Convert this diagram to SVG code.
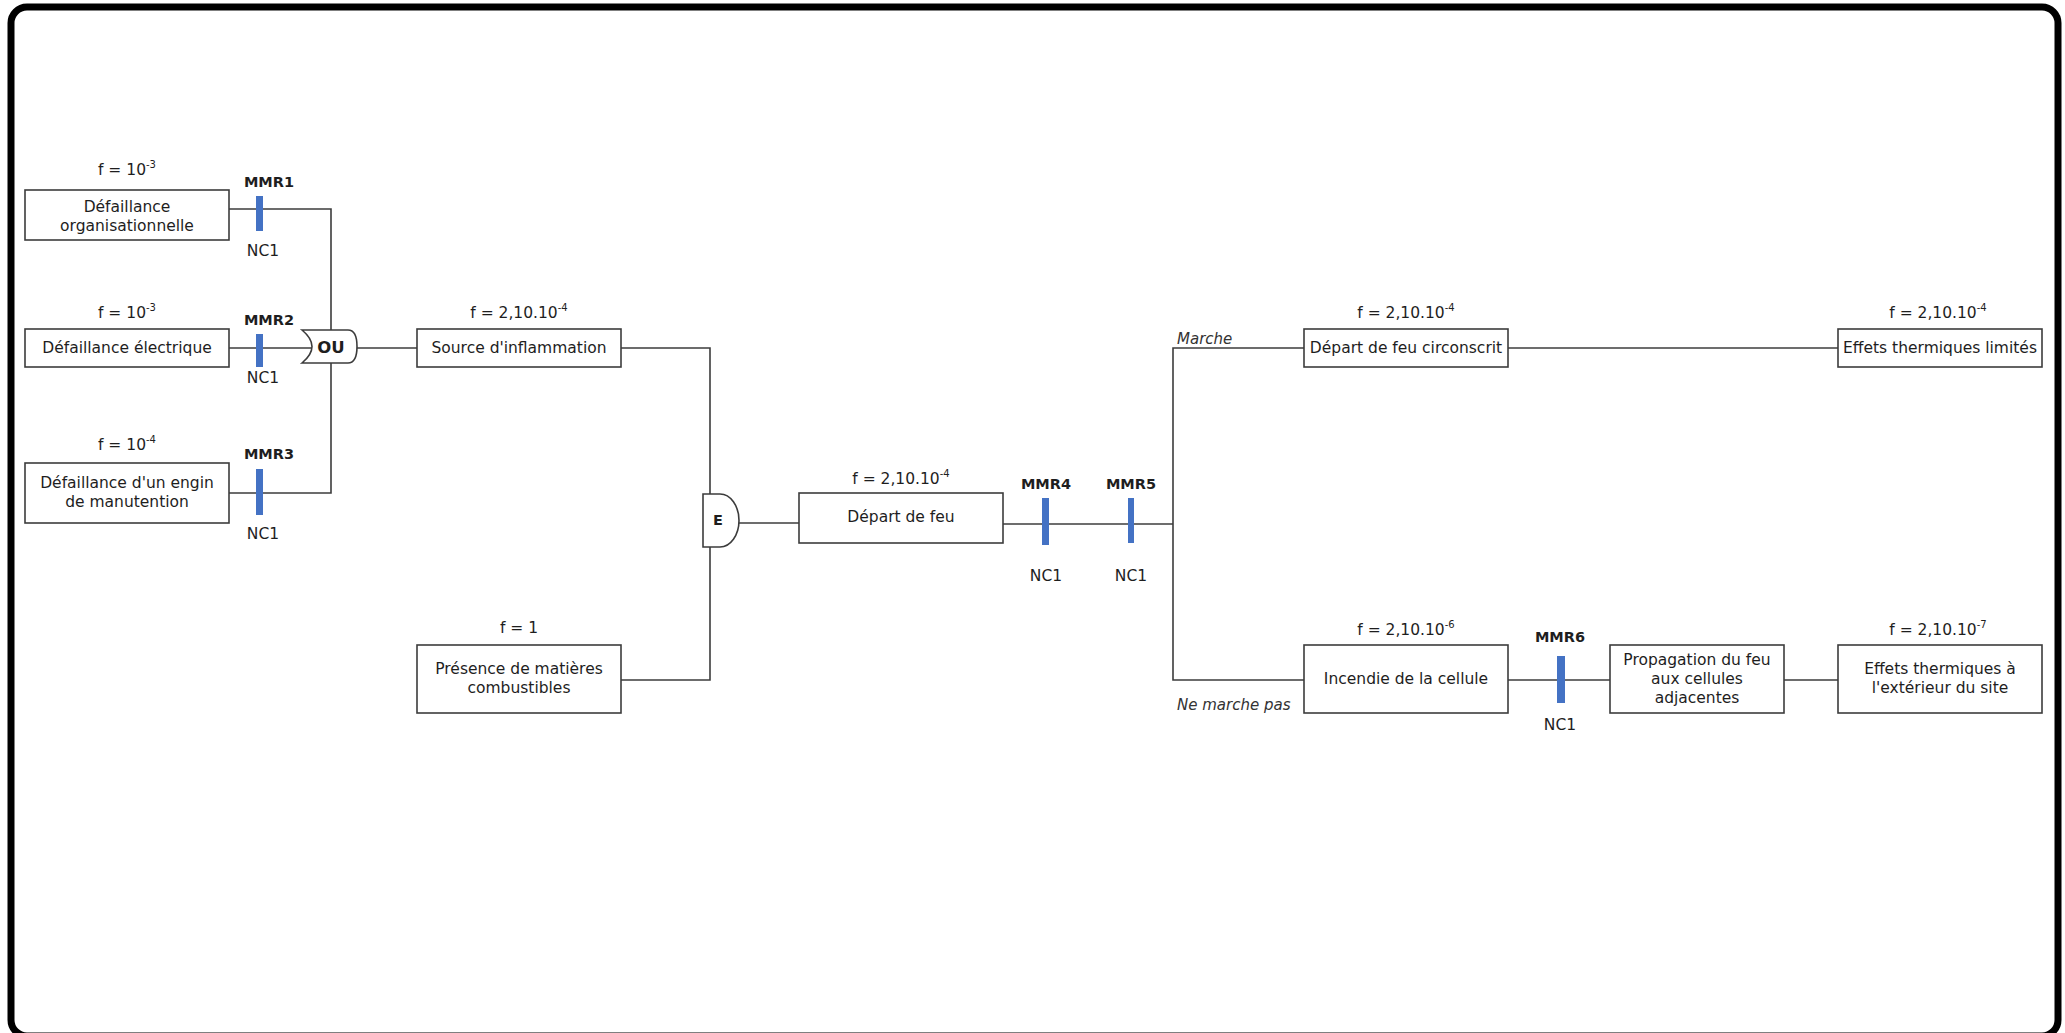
<svg xmlns="http://www.w3.org/2000/svg" width="2065" height="1033" viewBox="0 0 2065 1033">
<style>
.frame{fill:#fff;stroke:#000;stroke-width:7}
.box{fill:#fff;stroke:#3c3c3c;stroke-width:1.6}
.gate{fill:#fff;stroke:#3c3c3c;stroke-width:1.6}
.ln{fill:none;stroke:#3c3c3c;stroke-width:1.6}
.bar{fill:#4472c4}
text{font-family:"DejaVu Sans","Liberation Sans",sans-serif;font-size:15.5px;fill:#1e1e1e}
.c{text-anchor:middle}
.b{font-weight:bold;font-size:14.5px}
.g{font-weight:bold;font-size:16.5px}
.i{font-style:italic;font-size:15px;fill:#333}
.sup{font-size:10px}
</style>
<rect class="frame" x="11" y="7" width="2047" height="1029" rx="16"/>

<g id="connectors">
<path class="ln" d="M229,209 H331 V330"/>
<path class="ln" d="M229,348 H311"/>
<path class="ln" d="M229,493 H331 V363"/>
<path class="ln" d="M357,348 H417"/>
<path class="ln" d="M621,348 H710 V494"/>
<path class="ln" d="M621,680 H710 V547"/>
<path class="ln" d="M739,523 H799"/>
<path class="ln" d="M1003,524 H1173"/>
<path class="ln" d="M1304,348 H1173 V680 H1304"/>
<path class="ln" d="M1508,348 H1838"/>
<path class="ln" d="M1508,680 H1610"/>
<path class="ln" d="M1784,680 H1838"/>
</g>

<g id="n-defaillance-org">
<text class="c" x="127" y="175">f = 10<tspan class="sup" dy="-7">-3</tspan></text>
<rect class="box" x="25" y="190" width="204" height="50"/>
<text class="c" x="127" y="212">Défaillance</text>
<text class="c" x="127" y="231">organisationnelle</text>
</g>
<g id="n-defaillance-elec">
<text class="c" x="127" y="318">f = 10<tspan class="sup" dy="-7">-3</tspan></text>
<rect class="box" x="25" y="329" width="204" height="38"/>
<text class="c" x="127" y="353">Défaillance électrique</text>
</g>
<g id="n-defaillance-engin">
<text class="c" x="127" y="450">f = 10<tspan class="sup" dy="-7">-4</tspan></text>
<rect class="box" x="25" y="463" width="204" height="60"/>
<text class="c" x="127" y="488">Défaillance d'un engin</text>
<text class="c" x="127" y="507">de manutention</text>
</g>

<g id="n-mmr1">
<text class="c b" x="269" y="187">MMR1</text>
<rect class="bar" x="256" y="196" width="7" height="35"/>
<text class="c" x="263" y="256">NC1</text>
</g>
<g id="n-mmr2">
<text class="c b" x="269" y="325">MMR2</text>
<rect class="bar" x="256" y="334" width="7" height="33"/>
<text class="c" x="263" y="383">NC1</text>
</g>
<g id="n-mmr3">
<text class="c b" x="269" y="459">MMR3</text>
<rect class="bar" x="256" y="469" width="7" height="46"/>
<text class="c" x="263" y="539">NC1</text>
</g>

<g id="n-ou">
<path class="gate" d="M302,330 H348 Q357,330 357,346.5 Q357,363 348,363 H302 Q322,346.5 302,330 Z"/>
<text class="c g" x="331" y="353">OU</text>
</g>

<g id="n-source">
<text class="c" x="519" y="318">f = 2,10.10<tspan class="sup" dy="-7">-4</tspan></text>
<rect class="box" x="417" y="329" width="204" height="38"/>
<text class="c" x="519" y="353">Source d'inflammation</text>
</g>
<g id="n-presence">
<text class="c" x="519" y="633">f = 1</text>
<rect class="box" x="417" y="645" width="204" height="68"/>
<text class="c" x="519" y="674">Présence de matières</text>
<text class="c" x="519" y="693">combustibles</text>
</g>

<g id="n-e">
<path class="gate" d="M703,494 H720 A19,26.5 0 0 1 720,547 H703 Z"/>
<text class="c b" x="718" y="525">E</text>
</g>

<g id="n-depart">
<text class="c" x="901" y="484">f = 2,10.10<tspan class="sup" dy="-7">-4</tspan></text>
<rect class="box" x="799" y="493" width="204" height="50"/>
<text class="c" x="901" y="522">Départ de feu</text>
</g>

<g id="n-mmr4">
<text class="c b" x="1046" y="489">MMR4</text>
<rect class="bar" x="1042" y="498" width="7" height="47"/>
<text class="c" x="1046" y="581">NC1</text>
</g>
<g id="n-mmr5">
<text class="c b" x="1131" y="489">MMR5</text>
<rect class="bar" x="1128" y="498" width="6" height="45"/>
<text class="c" x="1131" y="581">NC1</text>
</g>

<g id="l-marche"><text class="i" x="1177" y="344">Marche</text></g>
<g id="l-nemarche"><text class="i" x="1177" y="710">Ne marche pas</text></g>

<g id="n-circonscrit">
<text class="c" x="1406" y="318">f = 2,10.10<tspan class="sup" dy="-7">-4</tspan></text>
<rect class="box" x="1304" y="329" width="204" height="38"/>
<text class="c" x="1406" y="353">Départ de feu circonscrit</text>
</g>
<g id="n-limites">
<text class="c" x="1938" y="318">f = 2,10.10<tspan class="sup" dy="-7">-4</tspan></text>
<rect class="box" x="1838" y="329" width="204" height="38"/>
<text class="c" x="1940" y="353">Effets thermiques limités</text>
</g>

<g id="n-incendie">
<text class="c" x="1406" y="635">f = 2,10.10<tspan class="sup" dy="-7">-6</tspan></text>
<rect class="box" x="1304" y="645" width="204" height="68"/>
<text class="c" x="1406" y="684">Incendie de la cellule</text>
</g>
<g id="n-mmr6">
<text class="c b" x="1560" y="642">MMR6</text>
<rect class="bar" x="1557" y="656" width="8" height="47"/>
<text class="c" x="1560" y="730">NC1</text>
</g>
<g id="n-propagation">
<rect class="box" x="1610" y="645" width="174" height="68"/>
<text class="c" x="1697" y="665">Propagation du feu</text>
<text class="c" x="1697" y="684">aux cellules</text>
<text class="c" x="1697" y="703">adjacentes</text>
</g>
<g id="n-exterieur">
<text class="c" x="1938" y="635">f = 2,10.10<tspan class="sup" dy="-7">-7</tspan></text>
<rect class="box" x="1838" y="645" width="204" height="68"/>
<text class="c" x="1940" y="674">Effets thermiques à</text>
<text class="c" x="1940" y="693">l'extérieur du site</text>
</g>
</svg>
